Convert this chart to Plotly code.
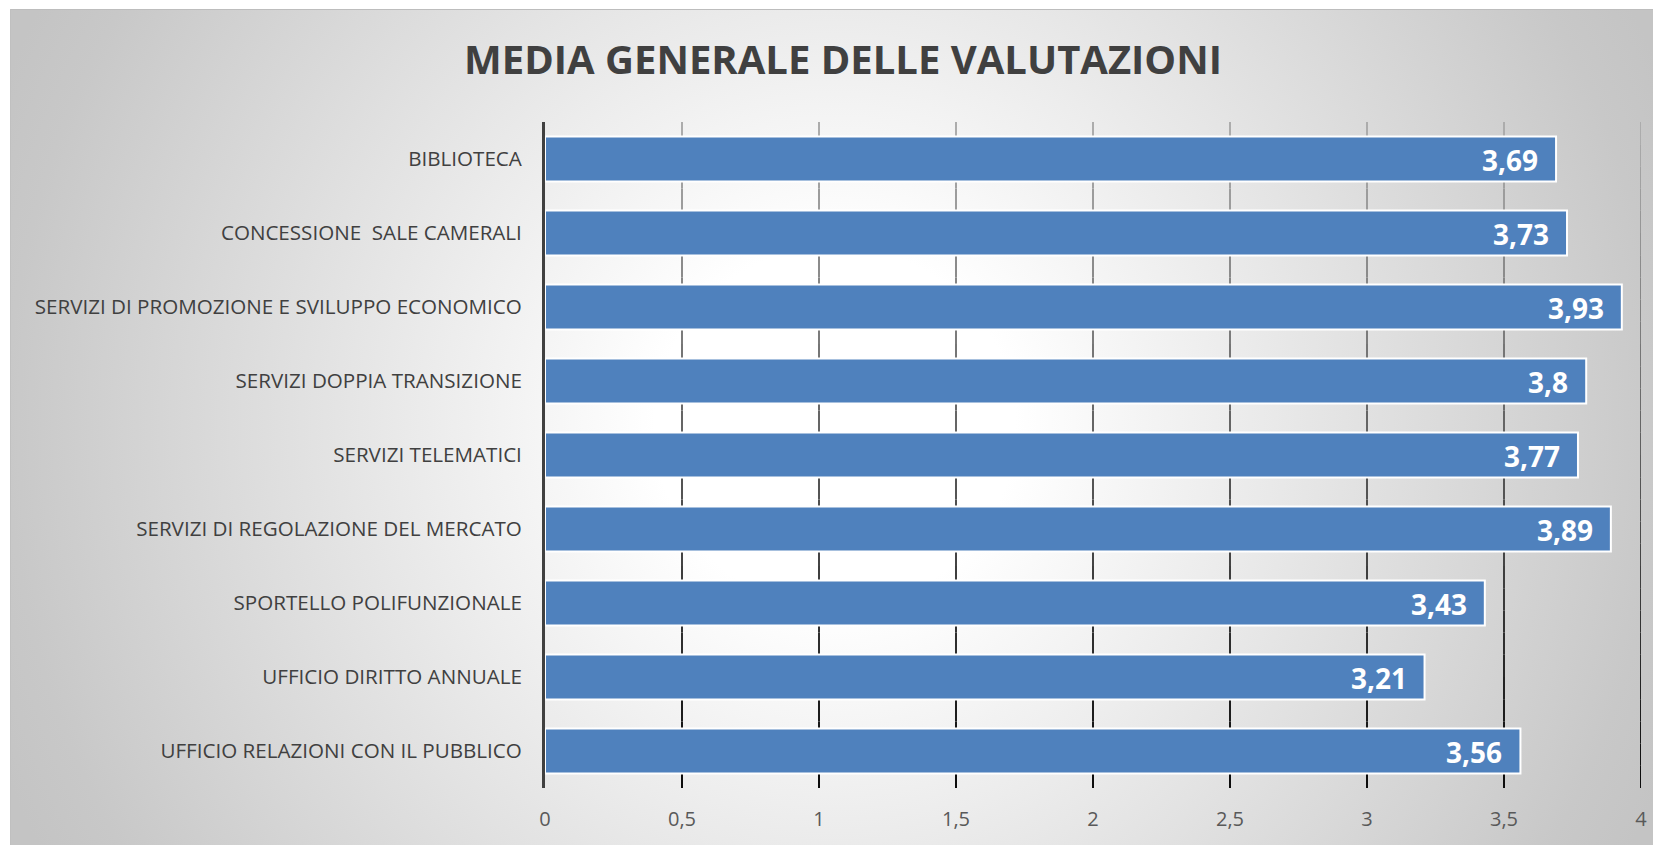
import base64
import plotly.graph_objects as go

# data
categories = [
    "BIBLIOTECA",
    "CONCESSIONE\u00a0 SALE CAMERALI",
    "SERVIZI DI PROMOZIONE E SVILUPPO ECONOMICO",
    "SERVIZI DOPPIA TRANSIZIONE",
    "SERVIZI TELEMATICI",
    "SERVIZI DI REGOLAZIONE DEL MERCATO",
    "SPORTELLO POLIFUNZIONALE",
    "UFFICIO DIRITTO ANNUALE",
    "UFFICIO RELAZIONI CON IL PUBBLICO",
]
values = [3.69, 3.73, 3.93, 3.8, 3.77, 3.89, 3.43, 3.21, 3.56]
x_ticks = [0, 0.5, 1, 1.5, 2, 2.5, 3, 3.5, 4]

# page body adds an 8px margin, so the figure is a bit smaller than the window
W, H = 1653, 837
ML, MR, MT, MB = 537, 20, 114, 57
PW, PH = W - ML - MR, H - MT - MB

BAR_COLOR = "#4F81BD"
TEXT_DARK = "#404040"

# radial grey -> white background, like the office chart area
bg_svg = (
    f'<svg xmlns="http://www.w3.org/2000/svg" width="{W}" height="{H}" viewBox="0 0 {W} {H}">'
    '<defs><radialGradient id="g" gradientUnits="userSpaceOnUse" cx="827" cy="419" r="900">'
    '<stop offset="0" stop-color="#ffffff"/>'
    '<stop offset="0.2" stop-color="#ffffff"/>'
    '<stop offset="0.92" stop-color="#c8c8c8"/>'
    '<stop offset="1" stop-color="#c4c4c4"/>'
    '</radialGradient></defs>'
    f'<rect width="{W}" height="{H}" fill="#ffffff"/>'
    f'<rect x="2" y="1" width="{W - 2}" height="{H - 1}" fill="url(#g)"/>'
    f'<line x1="2" y1="1.5" x2="{W}" y2="1.5" stroke="#bdbdbd" stroke-width="1"/>'
    f'<line x1="2.5" y1="1" x2="2.5" y2="{H}" stroke="#c0c0c0" stroke-width="1"/>'
    '</svg>'
)
bg_uri = "data:image/svg+xml;base64," + base64.b64encode(bg_svg.encode()).decode()

fig = go.Figure()

fig.add_trace(go.Bar(
    x=values,
    y=categories,
    orientation="h",
    marker=dict(color=BAR_COLOR, line=dict(color="white", width=2)),
    hoverinfo="x+y",
))

# value labels inside the bar ends
for cat, val in zip(categories, values):
    fig.add_annotation(
        x=val, y=cat, xref="x", yref="y",
        text=f"<b>{str(val).replace('.', ',')}</b>",
        showarrow=False, xanchor="right", xshift=-16, yshift=-1,
        font=dict(family="Open Sans", size=28, color="white"),
    )

# gridlines fading from grey at the top to black at the bottom
n_seg = 30
top_rgb, bot_rgb = (175, 175, 175), (10, 10, 10)
for t in x_ticks[1:]:
    for k in range(n_seg):
        f = (k + 0.5) / n_seg
        c = tuple(round(bot_rgb[i] + (top_rgb[i] - bot_rgb[i]) * f) for i in range(3))
        fig.add_shape(
            type="line", xref="x", yref="paper",
            x0=t, x1=t, y0=k / n_seg, y1=(k + 1) / n_seg,
            line=dict(color=f"rgb{c}", width=2), layer="below",
        )

fig.add_layout_image(
    source=bg_uri, xref="paper", yref="paper",
    x=-ML / PW, y=1 + MT / PH, sizex=W / PW, sizey=H / PH,
    xanchor="left", yanchor="top", sizing="stretch", layer="below",
)

fig.update_layout(
    width=W, height=H,
    margin=dict(l=ML, r=MR, t=MT, b=MB, pad=0),
    paper_bgcolor="white",
    plot_bgcolor="rgba(0,0,0,0)",
    separators=",.",
    bargap=0.39,
    showlegend=False,
    font=dict(family="Open Sans", color=TEXT_DARK),
    title=dict(
        text="<b>MEDIA GENERALE DELLE VALUTAZIONI</b>",
        font=dict(family="Open Sans", size=40, color=TEXT_DARK),
        x=835 / W, xref="container", xanchor="center",
        y=1 - 52 / H, yref="container", yanchor="middle",
    ),
    xaxis=dict(
        range=[0, 4], tickvals=x_ticks, showgrid=False, zeroline=False,
        showline=False, ticks="", ticklabelstandoff=17,
        tickfont=dict(family="Open Sans", size=20, color="#595959"),
        fixedrange=True,
    ),
    yaxis=dict(
        autorange="reversed", showgrid=False, zeroline=False,
        showline=True, linecolor=TEXT_DARK, linewidth=3,
        ticks="", ticklabelstandoff=16,
        tickfont=dict(family="Open Sans", size=20.6, color=TEXT_DARK),
        fixedrange=True,
    ),
)

fig.write_html("out.html")
